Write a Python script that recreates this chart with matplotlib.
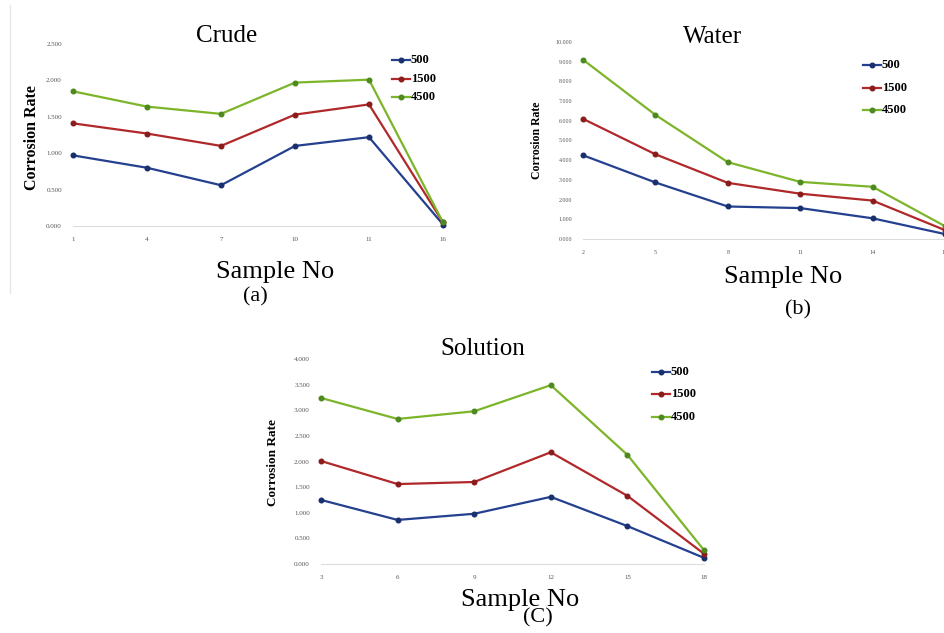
import matplotlib
matplotlib.use("Agg")
import matplotlib.pyplot as plt
import numpy as np

W, H = 945, 633

series_labels = ["500", "1500", "4500"]

crude_x = ["1", "4", "7", "10", "11", "16"]
crude_500 = [0.97, 0.80, 0.56, 1.10, 1.22, 0.02]
crude_1500 = [1.41, 1.27, 1.10, 1.53, 1.67, 0.05]
crude_4500 = [1.85, 1.64, 1.54, 1.97, 2.01, 0.05]

water_x = ["2", "5", "8", "11", "14", "17"]
water_500 = [4.25, 2.87, 1.65, 1.57, 1.05, 0.25]
water_1500 = [6.10, 4.30, 2.85, 2.30, 1.95, 0.45]
water_4500 = [9.10, 6.30, 3.90, 2.90, 2.65, 0.65]

solution_x = ["3", "6", "9", "12", "15", "18"]
solution_500 = [1.25, 0.86, 0.98, 1.31, 0.74, 0.12]
solution_1500 = [2.01, 1.56, 1.60, 2.18, 1.33, 0.20]
solution_4500 = [3.24, 2.83, 2.98, 3.49, 2.13, 0.27]

line_colors = ["#24408e", "#b0282a", "#7db52a"]
marker_colors = ["#1a2f6e", "#8a1c1c", "#4e8a20"]

SERIF = ["Liberation Serif", "DejaVu Serif"]

fig = plt.figure(figsize=(W / 100, H / 100), dpi=100)


def fx(px):
    return px / W


def fy(py):
    return 1 - py / H


def panel(left, right, top, bottom, xlabels, data, ymax, ystep, title, title_xy,
          xlabel_xy, letter, letter_xy, ylab_xy, ylab_size, leg_x, leg_ys,
          tick_fs=5, leg_fs=9):
    ax = fig.add_axes([fx(left), fy(bottom), fx(right) - fx(left), fy(top) - fy(bottom)])
    x = np.arange(len(xlabels))
    for vals, lc, mc in zip(data, line_colors, marker_colors):
        ax.plot(x, vals, color=lc, lw=1.6, marker="o", ms=3.3,
                markerfacecolor=mc, markeredgecolor=mc, clip_on=False, zorder=3)
    ax.set_xlim(0, len(xlabels) - 1)
    ax.set_ylim(0, ymax)
    yt = np.arange(0, ymax + 1e-9, ystep)
    ax.set_yticks(yt)
    ax.set_yticklabels([f"{v:.3f}" for v in yt], fontsize=tick_fs, color="#555555",
                       family=SERIF)
    ax.set_xticks(x)
    ax.set_xticklabels(xlabels, fontsize=tick_fs, color="#555555", family=SERIF)
    ax.tick_params(length=0, pad=8)
    for s in ["top", "right", "left"]:
        ax.spines[s].set_visible(False)
    ax.spines["bottom"].set_color("#dcdcdc")
    ax.spines["bottom"].set_linewidth(0.8)
    ax.patch.set_alpha(0)
    fig.text(fx(title_xy[0]), fy(title_xy[1]), title, ha="center", va="center",
             fontsize=18, family=SERIF)
    fig.text(fx(xlabel_xy[0]), fy(xlabel_xy[1]), "Sample No", ha="center", va="center",
             fontsize=19, family=SERIF)
    fig.text(fx(letter_xy[0]), fy(letter_xy[1]), letter, ha="center", va="center",
             fontsize=16, family=SERIF)
    fig.text(fx(ylab_xy[0]), fy(ylab_xy[1]), "Corrosion Rate", ha="center", va="center",
             rotation=90, fontsize=ylab_size, fontweight="bold", family=SERIF)
    for lab, ly, lc, mc in zip(series_labels, leg_ys, line_colors, marker_colors):
        fig.add_artist(plt.Line2D([fx(leg_x), fx(leg_x + 18)], [fy(ly), fy(ly)],
                                  color=lc, lw=1.6, transform=fig.transFigure))
        fig.add_artist(plt.Line2D([fx(leg_x + 9)], [fy(ly)], marker="o", ms=3.3,
                                  color=mc, transform=fig.transFigure))
        fig.text(fx(leg_x + 19), fy(ly), lab, ha="left", va="center",
                 fontsize=leg_fs, fontweight="bold", family=SERIF)
    return ax


panel(73, 443, 44, 226, crude_x, [crude_500, crude_1500, crude_4500], 2.5, 0.5,
      "Crude", (227, 36), (275, 272), "(a)", (255, 297), (32, 138), 11.5,
      392, [60, 79, 97])

panel(583, 945, 42, 239, water_x, [water_500, water_1500, water_4500], 10.0, 1.0,
      "Water", (713, 37), (783, 277), "(b)", (798, 310), (537, 140), 8.5,
      863, [65, 88, 110], tick_fs=4.3)

panel(321, 704, 359, 564, solution_x, [solution_500, solution_1500, solution_4500], 4.0, 0.5,
      "Solution", (483, 349), (520, 600), "(C)", (538, 618), (273, 462), 9.5,
      652, [372, 394, 417])

# faint border of panel (a)
fig.add_artist(plt.Line2D([fx(10), fx(10)], [fy(5), fy(293)], color="#e6e6e6", lw=1,
                          transform=fig.transFigure))

fig.savefig("out.png", dpi=100)
